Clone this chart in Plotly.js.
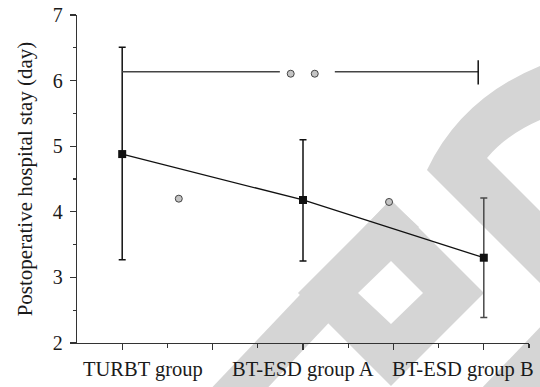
<!DOCTYPE html>
<html>
<head>
<meta charset="utf-8">
<script src="https://cdn.plot.ly/plotly-3.0.1.min.js"></script>
<style>html,body{margin:0;padding:0;background:#fff;}#chart{width:540px;height:387px;}</style>
</head>
<body>
<div id="chart"></div>
<script>
// ---- data ----
const groups = ['TURBT group', 'BT-ESD group A', 'BT-ESD group B'];
const groupPos = [1, 2, 3];
const means = [4.88, 4.18, 3.30];
const upper = [6.51, 5.10, 4.21];
const lower = [3.27, 3.25, 2.39];

// grey circle markers
const circleX = [1.313, 2.476, 1.932, 2.065];
const circleY = [4.20, 4.15, 6.105, 6.105];

// comparison bracket
const bracketX = [1, 1.872, null, 2.176, 2.969];
const bracketY = [6.136, 6.136, null, 6.136, 6.136];
const bracketTickX = [2.969, 2.969];
const bracketTickY = [5.94, 6.31];

const yTicks = [2, 3, 4, 5, 6, 7];
const xTickVals = [1, 1.5, 2, 2.5, 3];

// ---- layout constants ----
const W = 540, H = 387, L = 77, R = 11, T = 15, B = 44;
const pw = W - L - R, ph = H - T - B;
function P(X, Y) { return ((X - L) / pw).toFixed(4) + ',' + ((H - B - Y) / ph).toFixed(4); }

const wm = '#d5d5d5';
const wmPaths = [
  'M' + P(390,200) + ' L' + P(419,227) + ' L' + P(259,397) + ' L' + P(203,397) + ' Z',
  'M' + P(298,293) + ' L' + P(391,200) + ' L' + P(484,293) + ' L' + P(391,386) + ' Z ' +
  'M' + P(358,293) + ' L' + P(391,261) + ' L' + P(423,293) + ' L' + P(391,324) + ' Z',
  'M' + P(427,170) + ' Q' + P(462,96) + ' ' + P(545,64) + ' L' + P(545,118) +
  ' Q' + P(508.5,132.6) + ' ' + P(487,158) + ' L' + P(545,216) + ' L' + P(545,288) + ' Z',
  'M' + P(478,392) + ' L' + P(545,322) + ' L' + P(545,392) + ' Z'
];
const shapes = wmPaths.map(p => ({
  type: 'path', xref: 'paper', yref: 'paper', path: p,
  fillcolor: wm, line: {width: 0}, layer: 'below'
}));

const errPlus = means.map((m, i) => upper[i] - m);
const errMinus = means.map((m, i) => m - lower[i]);

const traces = [
  {
    x: groupPos.slice(0, 2), y: means.slice(0, 2), type: 'scatter', mode: 'markers',
    marker: {size: 1, color: 'rgba(0,0,0,0)'},
    error_y: {type: 'data', symmetric: false, array: errPlus.slice(0, 2), arrayminus: errMinus.slice(0, 2),
              color: '#111', thickness: 1.5, width: 3.5},
    hoverinfo: 'skip', showlegend: false
  },
  {
    x: groupPos.slice(2), y: means.slice(2), type: 'scatter', mode: 'markers',
    marker: {size: 1, color: 'rgba(0,0,0,0)'},
    error_y: {type: 'data', symmetric: false, array: errPlus.slice(2), arrayminus: errMinus.slice(2),
              color: '#4a4a4a', thickness: 1.5, width: 3.5},
    hoverinfo: 'skip', showlegend: false
  },
  {
    x: bracketX, y: bracketY, type: 'scatter', mode: 'lines',
    line: {color: '#444', width: 1.5}, connectgaps: false, showlegend: false, hoverinfo: 'skip'
  },
  {
    x: bracketTickX, y: bracketTickY, type: 'scatter', mode: 'lines',
    line: {color: '#111', width: 1.5}, showlegend: false, hoverinfo: 'skip'
  },
  {
    x: groupPos, y: means, type: 'scatter', mode: 'lines+markers',
    line: {color: '#111', width: 1.3},
    marker: {symbol: 'square', size: 8, color: '#111'},
    showlegend: false
  },
  {
    x: circleX, y: circleY, type: 'scatter', mode: 'markers',
    marker: {symbol: 'circle', size: 7, color: '#c4c4c4', line: {color: '#444', width: 1}},
    showlegend: false
  }
];

const fontFam = 'Liberation Serif';
const txtCol = '#1a1a1a';
const labelShift = [21, 0, -21];
const annotations = groups.map((g, i) => ({
  text: g, x: groupPos[i], xref: 'x', y: 0, yref: 'paper',
  xanchor: 'center', yanchor: 'top', xshift: labelShift[i], yshift: -13,
  showarrow: false, font: {family: fontFam, size: 20.5, color: txtCol}
}));

const layout = {
  width: W, height: H,
  margin: {l: L, r: R, t: T, b: B, pad: 0},
  paper_bgcolor: '#fff', plot_bgcolor: 'rgba(0,0,0,0)',
  showlegend: false,
  font: {family: fontFam, color: txtCol, size: 20},
  shapes: shapes,
  annotations: annotations,
  xaxis: {
    range: [0.75, 3.25], showgrid: false, zeroline: false,
    showline: true, linecolor: '#333', linewidth: 1.3,
    tickmode: 'array', tickvals: xTickVals, showticklabels: false,
    ticks: 'outside', ticklen: 6, tickwidth: 1.3, tickcolor: '#333',
    minor: {tickmode: 'array', tickvals: [1.25, 1.75, 2.25, 2.75, 3.25], ticks: 'outside', ticklen: 4, tickwidth: 1.3, tickcolor: '#333', showgrid: false},
    fixedrange: true
  },
  yaxis: {
    range: [2, 7], showgrid: false, zeroline: false,
    showline: true, linecolor: '#333', linewidth: 1.3,
    tickmode: 'array', tickvals: yTicks,
    ticks: 'outside', ticklen: 6, tickwidth: 1.3, tickcolor: '#333',
    ticklabelstandoff: 3,
    tickfont: {family: fontFam, size: 20, color: txtCol},
    minor: {tickmode: 'array', tickvals: [2.5, 3.5, 4.5, 5.5, 6.5], ticks: 'outside', ticklen: 3, tickwidth: 1.3, tickcolor: '#333', showgrid: false},
    title: {text: 'Postoperative hospital stay (day)', font: {family: fontFam, size: 21, color: txtCol}, standoff: 14},
    fixedrange: true
  }
};

Plotly.newPlot('chart', traces, layout, {displayModeBar: false, staticPlot: true});
</script>
</body>
</html>
